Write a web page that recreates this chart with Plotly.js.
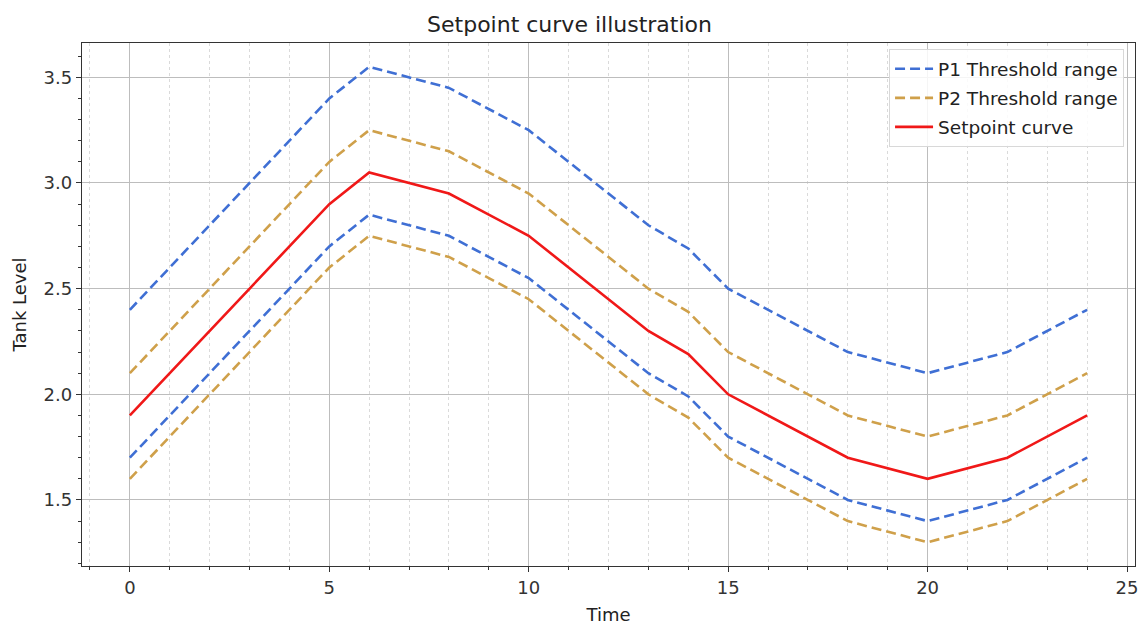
<!DOCTYPE html>
<html>
<head>
<meta charset="utf-8">
<script src="https://cdn.plot.ly/plotly-3.0.1.min.js"></script>
<style>
  html, body { margin: 0; padding: 0; background: #ffffff; }
  #chart { width: 1139px; height: 628px; }
</style>
</head>
<body>
<div id="chart"></div>
<script>
// Time axis (hours) and tank level curves
const time = [0, 5, 6, 8, 10, 13, 14, 15, 18, 20, 22, 24];
const setpoint = [1.9, 2.9, 3.05, 2.95, 2.75, 2.3, 2.19, 2.0, 1.7, 1.6, 1.7, 1.9];
const p1Upper = [2.4, 3.4, 3.55, 3.45, 3.25, 2.8, 2.69, 2.5, 2.2, 2.1, 2.2, 2.4];
const p1Lower = [1.7, 2.7, 2.85, 2.75, 2.55, 2.1, 1.99, 1.8, 1.5, 1.4, 1.5, 1.7];
const p2Upper = [2.1, 3.1, 3.25, 3.15, 2.95, 2.5, 2.39, 2.2, 1.9, 1.8, 1.9, 2.1];
const p2Lower = [1.6, 2.6, 2.75, 2.65, 2.45, 2.0, 1.89, 1.7, 1.4, 1.3, 1.4, 1.6];

const blue = '#3f6fd4';
const gold = '#cfa04a';
const red = '#f01818';
const dash = '10px,5px';

const traces = [
  { x: time, y: p1Upper, mode: 'lines', name: 'P1 Threshold range', legendgroup: 'p1',
    line: { color: blue, width: 2.6, dash: dash } },
  { x: time, y: p1Lower, mode: 'lines', name: 'P1 Threshold range', legendgroup: 'p1', showlegend: false,
    line: { color: blue, width: 2.6, dash: dash } },
  { x: time, y: p2Upper, mode: 'lines', name: 'P2 Threshold range', legendgroup: 'p2',
    line: { color: gold, width: 2.6, dash: dash } },
  { x: time, y: p2Lower, mode: 'lines', name: 'P2 Threshold range', legendgroup: 'p2', showlegend: false,
    line: { color: gold, width: 2.6, dash: dash } },
  { x: time, y: setpoint, mode: 'lines', name: 'Setpoint curve', legendgroup: 'sp',
    line: { color: red, width: 2.6 } }
];

const font = { family: 'DejaVu Sans, sans-serif', color: '#333333' };

const layout = {
  width: 1139, height: 628,
  paper_bgcolor: '#ffffff', plot_bgcolor: '#ffffff',
  margin: { l: 82, r: 4, t: 43, b: 62 },
  font: Object.assign({ size: 18 }, font),
  title: { text: 'Setpoint curve illustration', x: 0.5, xanchor: 'center', y: 0.962, yanchor: 'middle',
           font: Object.assign({}, font, { size: 22, color: '#222222' }) },
  showlegend: true,
  legend: {
    x: 0.9896, y: 0.988, xanchor: 'right', yanchor: 'top',
    bgcolor: 'rgba(255,255,255,0.85)', bordercolor: '#d8d8d8', borderwidth: 1,
    font: Object.assign({}, font, { size: 18.5, color: '#222222' }),
    itemwidth: 38, tracegroupgap: 2
  },
  xaxis: {
    range: [-1.2, 25.2], tick0: 0, dtick: 5, zeroline: false,
    showline: true, mirror: true, linecolor: '#333333', linewidth: 1.3,
    ticks: 'outside', ticklen: 5, tickwidth: 1, tickcolor: '#333333',
    showgrid: true, gridcolor: '#bdbdbd', gridwidth: 1,
    tickfont: Object.assign({}, font, { size: 18 }),
    minor: { dtick: 1, tick0: 0, ticks: 'outside', ticklen: 3, tickcolor: '#333333',
             showgrid: true, gridcolor: '#dadada', griddash: 'dot', gridwidth: 1 },
    title: { text: 'Time', standoff: 11, font: Object.assign({}, font, { size: 18, color: '#222222' }) }
  },
  yaxis: {
    range: [1.1875, 3.6625], tick0: 0, dtick: 0.5, tickformat: '.1f', zeroline: false,
    showline: true, mirror: true, linecolor: '#333333', linewidth: 1.3,
    ticks: 'outside', ticklen: 5, tickwidth: 1, tickcolor: '#333333',
    showgrid: true, gridcolor: '#bdbdbd', gridwidth: 1,
    tickfont: Object.assign({}, font, { size: 18 }),
    minor: { dtick: 0.1, tick0: 0, ticks: 'outside', ticklen: 3, tickcolor: '#333333', showgrid: false },
    title: { text: 'Tank Level', standoff: 12, font: Object.assign({}, font, { size: 18, color: '#222222' }) }
  }
};

Plotly.newPlot('chart', traces, layout, { displayModeBar: false, staticPlot: true });
</script>
</body>
</html>
